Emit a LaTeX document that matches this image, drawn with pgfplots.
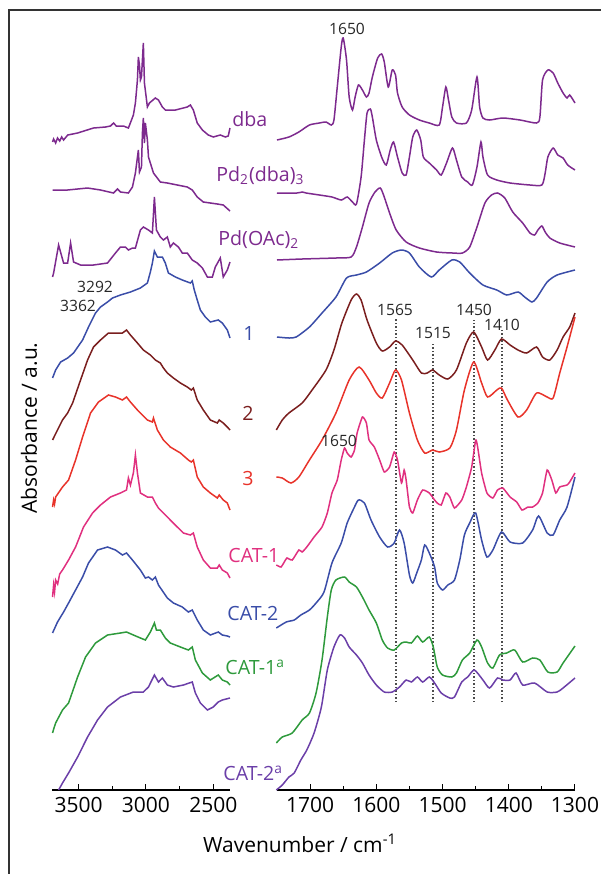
\documentclass[border=0pt]{standalone}
\usepackage{fontspec}
\setmainfont{Open Sans}
\usepackage{pgfplots}
\pgfplotsset{compat=1.18}
\definecolor{cpur}{HTML}{7D2A8E}
\definecolor{cblue}{HTML}{3A4DA8}
\definecolor{cdred}{HTML}{7A1E1E}
\definecolor{cred}{HTML}{E8332A}
\definecolor{cpink}{HTML}{E0307F}
\definecolor{cgreen}{HTML}{2E9A3C}
\definecolor{cviol}{HTML}{6B3FA8}
\pgfplotsset{myax/.style={scale only axis, height=380pt, ymin=0, ymax=760,
  x dir=reverse, axis x line=bottom, axis y line=none, ytick=\empty,
  x axis line style={-, line width=0.6pt},
  tick align=inside, major tick length=3pt, minor tick length=2pt,
  tick style={black, line width=0.5pt},
  ticklabel style={font=\fontsize{10.5}{12}\selectfont},
  /pgf/number format/assume math mode=true, /pgf/number format/1000 sep={},
  clip=false, anchor=south west,
  every axis plot/.append style={line width=0.75pt, no markers}}}
\begin{document}
\begin{tikzpicture}
\useasboundingbox (0,0) rectangle (300.5pt,-437pt);
\draw[line width=1pt, black!80] (4.5pt,-437pt) -- (4.5pt,-5pt) -- (300.5pt,-5pt);
% ---------------- left panel ----------------
\begin{axis}[myax, at={(26pt,-395pt)}, width=89pt, xmin=2376, xmax=3697,
  xtick={2500,3000,3500}, minor xtick={2750,3250}]
\addplot[cpur] coordinates {(3693,648) (3685,651) (3670,647) (3656,652) (3640,649) (3625,653) (3611,650) (3580,655) (3507,657) (3389,662) (3300,663) (3263,664) (3240,667) (3220,664) (3167,664) (3130,662) (3107,670) (3093,675) (3078,687) (3063,710) (3056,733) (3048,725) (3041,710) (3033,713) (3019,747) (3011,707) (2989,683) (2974,687) (2930,692) (2907,690) (2878,683) (2856,680) (2781,680) (2693,683) (2670,685) (2648,680) (2619,667) (2581,660) (2537,655) (2500,653) (2448,655) (2411,653) (2389,654) (2376,662)};
\addplot[cpur] coordinates {(3693,600) (3581,600) (3433,602) (3337,600) (3241,597) (3211,601) (3189,598) (3130,597) (3100,603) (3078,617) (3056,640) (3048,618) (3033,623) (3026,657) (3019,672) (3011,647) (3004,667) (2989,650) (2981,633) (2944,617) (2893,608) (2841,607) (2767,605) (2693,603) (2656,600) (2619,593) (2574,588) (2522,587) (2470,586) (2426,585) (2376,579)};
\addplot[cpur] coordinates {(3693,513) (3685,517) (3648,545) (3611,527) (3581,527) (3559,547) (3537,528) (3485,525) (3389,525) (3285,527) (3226,537) (3189,543) (3152,543) (3130,540) (3100,542) (3078,542) (3041,560) (3019,563) (2981,560) (2952,557) (2937,593) (2922,560) (2893,553) (2870,550) (2841,553) (2819,543) (2796,547) (2759,543) (2730,537) (2693,537) (2656,530) (2619,527) (2581,522) (2544,513) (2507,513) (2485,523) (2448,532) (2426,513) (2396,520) (2376,528)};
\addplot[cblue] coordinates {(3693,412) (3670,420) (3633,428) (3581,432) (3537,437) (3470,450) (3426,463) (3374,477) (3337,483) (3285,488) (3248,492) (3189,495) (3115,498) (3041,502) (2989,507) (2967,518) (2952,527) (2937,539) (2915,533) (2878,533) (2856,527) (2833,517) (2781,513) (2730,510) (2670,507) (2656,509) (2641,500) (2619,490) (2596,480) (2559,473) (2522,468) (2463,470) (2433,467) (2396,460) (2376,452)};
\addplot[cdred] coordinates {(3693,350) (3656,360) (3619,370) (3581,377) (3544,387) (3485,410) (3433,430) (3389,443) (3337,450) (3278,457) (3211,457) (3174,457) (3144,460) (3115,455) (3063,447) (3019,440) (2967,435) (2930,430) (2893,427) (2870,422) (2841,417) (2796,412) (2744,407) (2693,403) (2663,400) (2648,402) (2619,390) (2574,380) (2522,370) (2470,367) (2456,370) (2426,367) (2396,363) (2376,360)};
\addplot[cred] coordinates {(3693,283) (3685,290) (3678,286) (3670,293) (3619,303) (3574,310) (3522,330) (3470,353) (3411,377) (3352,388) (3278,395) (3226,393) (3174,390) (3144,393) (3115,388) (3063,380) (2989,370) (2952,368) (2944,372) (2915,360) (2870,350) (2819,343) (2744,337) (2685,330) (2663,328) (2648,330) (2619,313) (2574,303) (2522,297) (2470,292) (2456,295) (2426,290) (2396,287) (2376,280)};
\addplot[cpink] coordinates {(3693,193) (3685,205) (3678,198) (3670,210) (3655,206) (3640,216) (3619,220) (3574,230) (3522,243) (3463,263) (3396,277) (3337,285) (3263,293) (3189,297) (3144,300) (3130,312) (3115,305) (3093,317) (3078,335) (3063,317) (3041,297) (2989,293) (2952,293) (2930,287) (2907,282) (2870,277) (2819,270) (2767,263) (2722,257) (2670,255) (2648,257) (2619,243) (2574,230) (2522,222) (2470,222) (2456,225) (2433,220) (2396,217) (2376,212)};
\addplot[cblue] coordinates {(3693,157) (3656,168) (3611,178) (3574,187) (3522,200) (3470,213) (3426,227) (3359,240) (3285,243) (3226,240) (3174,235) (3144,237) (3100,230) (3041,220) (3004,212) (2981,213) (2952,210) (2930,213) (2907,205) (2841,192) (2796,187) (2730,183) (2685,178) (2656,180) (2619,170) (2574,160) (2522,155) (2463,158) (2433,155) (2396,154) (2376,153)};
\addplot[cgreen] coordinates {(3693,57) (3680,63) (3670,67) (3619,80) (3574,87) (3507,113) (3448,133) (3374,147) (3285,155) (3189,157) (3144,158) (3093,155) (3041,152) (3004,150) (2967,158) (2937,167) (2922,160) (2893,160) (2856,152) (2819,147) (2744,143) (2685,140) (2656,143) (2633,130) (2581,117) (2522,110) (2463,115) (2433,110) (2396,108) (2376,105)};
\addplot[cviol] coordinates {(3648,0) (3619,7) (3574,17) (3507,33) (3433,53) (3359,70) (3285,83) (3189,93) (3093,98) (3019,98) (2981,103) (2937,115) (2907,108) (2878,112) (2841,105) (2796,103) (2722,105) (2656,108) (2633,97) (2596,87) (2544,80) (2500,83) (2463,88) (2433,90) (2376,92)};
\end{axis}
% ---------------- right panel ----------------
\begin{axis}[myax, at={(138.5pt,-395pt)}, width=149pt, xmin=1300, xmax=1750,
  xtick={1300,1400,...,1700}, minor xtick={1350,1450,...,1650}]
\addplot[densely dotted, line width=0.9pt, black!70] coordinates {(1570,88) (1570,472)};
\addplot[densely dotted, line width=0.9pt, black!70] coordinates {(1515,88) (1515,447)};
\addplot[densely dotted, line width=0.9pt, black!70] coordinates {(1452,88) (1452,470)};
\addplot[densely dotted, line width=0.9pt, black!70] coordinates {(1410,88) (1410,460)};
\addplot[cpur, smooth, tension=0.4] coordinates {(1750,650) (1732,653) (1717,658) (1701,665) (1686,667) (1676,668) (1668,665) (1664,670) (1659,703) (1653,743) (1650,752) (1645,730) (1641,693) (1636,680) (1632,693) (1627,705) (1621,700) (1615,693) (1611,697) (1606,713) (1598,732) (1592,736) (1588,728) (1582,703) (1576,720) (1571,715) (1568,697) (1561,683) (1550,675) (1535,670) (1520,667) (1505,665) (1500,683) (1495,703) (1491,690) (1486,673) (1479,667) (1464,667) (1456,680) (1448,713) (1444,683) (1439,672) (1429,670) (1409,672) (1383,670) (1358,667) (1353,673) (1349,710) (1341,720) (1333,717) (1326,707) (1318,697) (1312,692) (1308,695) (1300,687)};
\addplot[cpur, smooth, tension=0.4] coordinates {(1750,597) (1720,597) (1712,598) (1706,597) (1686,595) (1667,593) (1653,590) (1644,593) (1636,588) (1630,586) (1623,613) (1618,650) (1614,677) (1609,681) (1606,673) (1600,650) (1592,633) (1585,625) (1579,640) (1574,648) (1568,633) (1561,617) (1555,615) (1550,633) (1545,653) (1539,660) (1533,650) (1529,633) (1520,627) (1509,620) (1502,615) (1494,627) (1485,642) (1479,630) (1471,613) (1462,608) (1455,605) (1448,623) (1442,648) (1439,633) (1432,615) (1418,610) (1398,607) (1368,605) (1350,605) (1345,617) (1341,633) (1333,642) (1326,635) (1318,632) (1311,625) (1300,620)};
\addplot[cpur, smooth, tension=0.4] coordinates {(1750,530) (1712,531) (1661,532) (1638,533) (1630,543) (1621,563) (1611,587) (1602,598) (1594,602) (1588,593) (1580,577) (1570,560) (1555,548) (1535,542) (1509,538) (1485,537) (1470,537) (1459,543) (1448,563) (1436,587) (1426,595) (1417,597) (1406,592) (1394,578) (1379,567) (1368,557) (1361,555) (1356,560) (1350,564) (1345,558) (1338,552) (1323,547) (1300,543)};
\addplot[cblue, smooth, tension=0.4] coordinates {(1750,453) (1732,452) (1721,453) (1701,463) (1682,477) (1661,493) (1645,512) (1630,515) (1615,518) (1595,527) (1576,537) (1562,540) (1550,537) (1535,523) (1517,513) (1505,520) (1486,530) (1474,528) (1459,517) (1439,505) (1418,500) (1403,495) (1386,498) (1376,493) (1365,488) (1358,492) (1342,508) (1327,515) (1300,520)};
\addplot[cdred, smooth, tension=0.4] coordinates {(1751,360) (1742,370) (1732,377) (1712,387) (1697,400) (1676,420) (1664,440) (1652,467) (1638,490) (1630,496) (1623,490) (1614,470) (1600,447) (1591,439) (1580,443) (1571,449) (1561,445) (1545,430) (1532,417) (1523,417) (1515,420) (1505,415) (1492,411) (1479,420) (1464,447) (1453,458) (1441,443) (1432,430) (1421,440) (1411,451) (1398,445) (1386,440) (1373,437) (1358,443) (1349,433) (1338,430) (1327,440) (1318,453) (1308,463) (1300,477)};
\addplot[cred, smooth, tension=0.4] coordinates {(1751,313) (1742,312) (1729,307) (1717,313) (1701,330) (1682,350) (1661,377) (1641,410) (1626,423) (1611,410) (1600,397) (1591,392) (1580,407) (1571,420) (1562,410) (1550,377) (1538,350) (1527,337) (1515,340) (1505,338) (1489,342) (1479,360) (1467,400) (1453,428) (1441,407) (1432,393) (1418,400) (1411,402) (1402,390) (1386,373) (1373,380) (1358,397) (1342,393) (1333,392) (1323,417) (1312,443) (1300,473)};
\addplot[cpink, smooth, tension=0.3] coordinates {(1751,225) (1744,223) (1739,228) (1735,232) (1727,230) (1717,240) (1712,238) (1705,243) (1694,253) (1682,263) (1674,277) (1667,297) (1659,310) (1653,330) (1648,342) (1644,337) (1638,333) (1633,340) (1629,357) (1621,373) (1615,367) (1611,350) (1603,343) (1595,330) (1588,318) (1580,323) (1573,338) (1568,330) (1562,307) (1558,320) (1555,310) (1550,283) (1545,277) (1538,290) (1530,300) (1520,297) (1512,290) (1508,287) (1502,285) (1495,297) (1489,293) (1482,282) (1471,290) (1464,303) (1456,323) (1450,350) (1447,343) (1441,317) (1433,297) (1424,292) (1417,300) (1409,302) (1398,293) (1388,288) (1380,280) (1371,283) (1364,283) (1356,287) (1349,297) (1342,320) (1335,310) (1329,297) (1323,303) (1312,305) (1308,308) (1300,317)};
\addplot[cblue, smooth, tension=0.4] coordinates {(1751,162) (1736,168) (1724,170) (1714,175) (1701,180) (1691,187) (1679,198) (1667,227) (1653,247) (1644,267) (1633,283) (1627,290) (1618,287) (1608,270) (1595,253) (1583,243) (1573,247) (1565,260) (1558,247) (1550,215) (1545,207) (1539,217) (1532,230) (1527,245) (1520,237) (1512,223) (1508,207) (1500,200) (1492,205) (1482,210) (1474,230) (1467,255) (1459,267) (1450,277) (1441,250) (1433,233) (1424,240) (1411,258) (1398,248) (1379,247) (1364,260) (1355,274) (1342,257) (1333,255) (1323,270) (1312,283) (1300,313)};
\addplot[cgreen, smooth, tension=0.4] coordinates {(1751,47) (1742,53) (1727,57) (1712,70) (1701,77) (1691,97) (1682,130) (1674,173) (1668,200) (1661,210) (1648,213) (1641,208) (1630,203) (1621,193) (1611,180) (1600,167) (1591,150) (1583,142) (1573,140) (1562,147) (1555,148) (1547,147) (1538,154) (1530,148) (1520,153) (1514,143) (1508,123) (1500,115) (1486,113) (1479,117) (1470,130) (1459,137) (1448,150) (1441,143) (1432,127) (1424,122) (1414,135) (1403,137) (1391,140) (1379,128) (1364,132) (1353,130) (1341,118) (1327,118) (1318,127) (1300,144)};
\addplot[cviol, smooth, tension=0.4] coordinates {(1751,0) (1742,5) (1732,13) (1724,17) (1714,30) (1705,40) (1694,57) (1683,83) (1674,120) (1664,143) (1655,155) (1648,152) (1641,143) (1630,135) (1621,127) (1611,115) (1600,105) (1588,98) (1576,98) (1565,103) (1555,110) (1547,108) (1538,113) (1530,108) (1520,113) (1512,107) (1502,97) (1489,92) (1482,93) (1471,108) (1462,113) (1452,120) (1439,110) (1429,102) (1417,112) (1409,110) (1398,110) (1389,117) (1379,105) (1361,107) (1342,98) (1327,98) (1318,102) (1300,112)};
\end{axis}
% ---------------- labels ----------------
\begin{scope}[every node/.style={font=\fontsize{9.8}{11}\selectfont, inner sep=0pt}]
\node[cpur, anchor=west] at (116pt,-59.5pt) {dba};
\node[cpur, anchor=west] at (108pt,-88pt) {Pd\textsubscript{2}(dba)\textsubscript{3}};
\node[cpur, anchor=west] at (109pt,-120pt) {Pd(OAc)\textsubscript{2}};
\node[cblue] at (124.5pt,-166.5pt) {1};
\node[cdred] at (124pt,-206.5pt) {2};
\node[cred] at (124pt,-239pt) {3};
\node[cpink, anchor=west] at (114pt,-277.5pt) {CAT-1};
\node[cblue, anchor=west] at (113.5pt,-306.5pt) {CAT-2};
\node[cgreen, anchor=west] at (112.5pt,-333.5pt) {CAT-1\textsuperscript{a}};
\node[cviol, anchor=west] at (111.5pt,-386.5pt) {CAT-2\textsuperscript{a}};
\end{scope}
\begin{scope}[every node/.style={font=\fontsize{7.8}{9}\selectfont, inner sep=0pt, black!85}]
\node at (173.5pt,-14.5pt) {1650};
\node at (47.5pt,-143.5pt) {3292};
\node at (39pt,-153pt) {3362};
\node at (197.5pt,-155pt) {1565};
\node at (216.5pt,-166.5pt) {1515};
\node at (237pt,-155pt) {1450};
\node at (251pt,-162.5pt) {1410};
\node at (169.5pt,-220.5pt) {1650};
\end{scope}
\node[font=\fontsize{10.5}{12}\selectfont, inner sep=0pt] at (150pt,-421.5pt) {Wavenumber / cm\textsuperscript{-1}};
\node[font=\fontsize{10.5}{12}\selectfont, inner sep=0pt, rotate=90] at (14.5pt,-214pt) {Absorbance / a.u.};
\end{tikzpicture}
\end{document}
